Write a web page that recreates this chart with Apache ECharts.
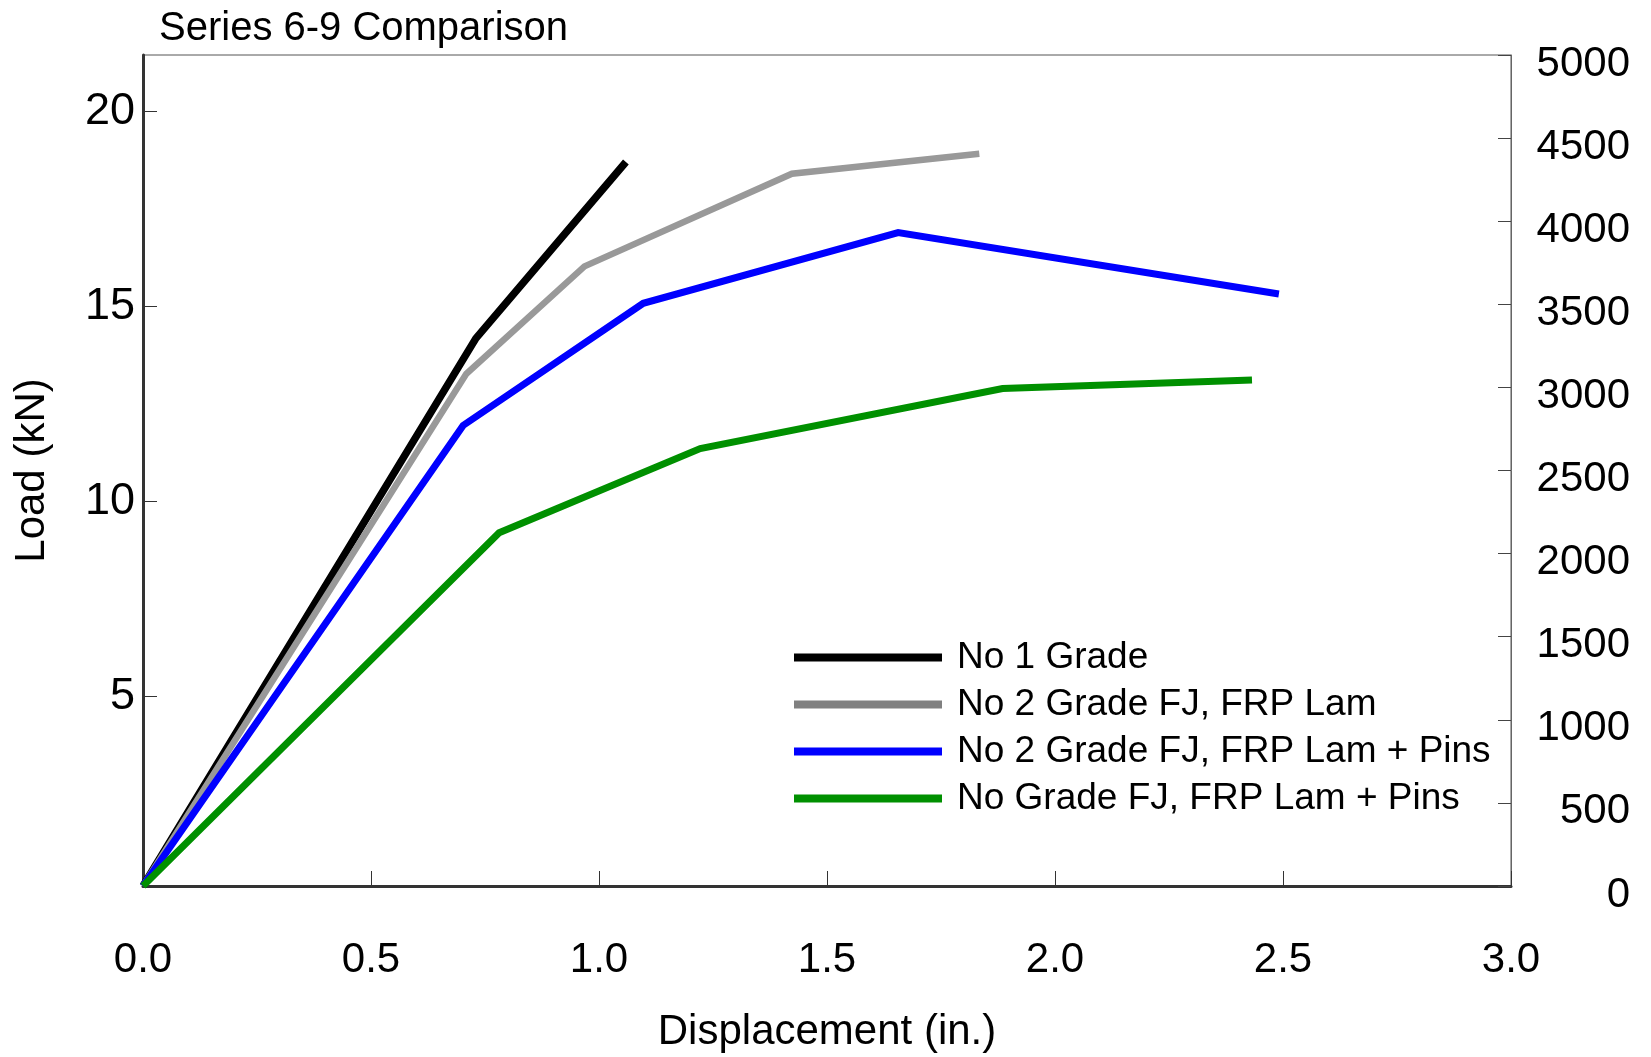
<!DOCTYPE html>
<html>
<head>
<meta charset="utf-8">
<script src="https://cdn.jsdelivr.net/npm/echarts@6/dist/echarts.min.js"></script>
<style>
html,body{margin:0;padding:0;background:#fff;}
#chart{width:1651px;height:1057px;}
</style>
</head>
<body>
<div id="chart"></div>
<script>
// Data: [displacement (in.), load] – load read on the right-hand scale
const seriesNames = ['No 1 Grade', 'No 2 Grade FJ, FRP Lam', 'No 2 Grade FJ, FRP Lam + Pins', 'No Grade FJ, FRP Lam + Pins'];
const no1Grade = [[0, 0], [0.730, 3295], [1.059, 4356]];
const no2GradeFJ = [[0, 0], [0.709, 3082], [0.968, 3728], [1.423, 4286], [1.834, 4406]];
const no2GradeFJPins = [[0, 0], [0.702, 2771], [1.097, 3506], [1.656, 3931], [2.491, 3562]];
const noGradeFJPins = [[0, 0], [0.781, 2125], [1.222, 2632], [1.885, 2993], [2.432, 3044]];
const leftTicks = [5, 10, 15, 20];
const xTicks = [0, 0.5, 1.0, 1.5, 2.0, 2.5, 3.0];
const rightTicks = [0, 500, 1000, 1500, 2000, 2500, 3000, 3500, 4000, 4500, 5000];

const FONT = '"Liberation Sans", Arial, sans-serif';
const chart = echarts.init(document.getElementById('chart'), null, {renderer: 'canvas'});

function mkSeries(name, data, color, width) {
  return {
    name: name, type: 'line', data: data, yAxisIndex: 1,
    symbol: 'none', showSymbol: false, animation: false,
    lineStyle: {color: color, width: width, join: 'miter', cap: 'butt'},
    itemStyle: {color: color}
  };
}

chart.setOption({
  backgroundColor: '#fff',
  animation: false,
  title: {
    text: 'Series 6-9 Comparison', left: 154, top: 4,
    textStyle: {fontFamily: FONT, fontSize: 40, fontWeight: 'normal', color: '#000'}
  },
  grid: {left: 143, right: 140, top: 55, bottom: 171, show: true, borderColor: '#555', borderWidth: 1,
         containLabel: false, outerBoundsMode: 'none'},
  legend: {
    orient: 'vertical', left: 789, top: 634, itemGap: 10,
    icon: 'rect', itemWidth: 148, itemHeight: 8,
    textStyle: {fontFamily: FONT, fontSize: 37, color: '#000', padding: [0, 0, 0, 10]},
    data: [
      {name: seriesNames[0], itemStyle: {color: '#000'}},
      {name: seriesNames[1], itemStyle: {color: '#808080'}},
      {name: seriesNames[2], itemStyle: {color: '#0000ff'}},
      {name: seriesNames[3], itemStyle: {color: '#009000'}}
    ]
  },
  xAxis: {
    type: 'value', min: xTicks[0], max: xTicks[xTicks.length - 1], interval: 0.5,
    name: 'Displacement (in.)', nameLocation: 'middle', nameGap: 125,
    nameTextStyle: {fontFamily: FONT, fontSize: 42, color: '#000'},
    axisLine: {show: true, onZero: false, lineStyle: {color: '#333', width: 3}},
    axisTick: {show: true, inside: true, length: 15, lineStyle: {color: '#333', width: 1}},
    axisLabel: {fontFamily: FONT, fontSize: 42, color: '#000', margin: 53, formatter: v => v.toFixed(1)},
    splitLine: {show: false}
  },
  yAxis: [
    {
      type: 'value', position: 'left', min: 0.149, max: 21.44,
      name: 'Load (kN)', nameLocation: 'middle', nameGap: 90, nameRotate: 90,
      nameTextStyle: {fontFamily: FONT, fontSize: 42, color: '#000'},
      axisLine: {show: true, onZero: false, lineStyle: {color: '#333', width: 3}},
      axisTick: {show: true, inside: true, length: 14, customValues: leftTicks, lineStyle: {color: '#333', width: 1}},
      axisLabel: {fontFamily: FONT, fontSize: 45, color: '#000', margin: 8, customValues: leftTicks},
      splitLine: {show: false}
    },
    {
      type: 'value', position: 'right', min: rightTicks[0], max: rightTicks[rightTicks.length - 1], interval: 500,
      axisLine: {show: true, onZero: false, lineStyle: {color: '#666', width: 1}},
      axisTick: {show: true, inside: true, length: 13, lineStyle: {color: '#444', width: 1}},
      axisLabel: {fontFamily: FONT, fontSize: 42, color: '#000', margin: 119, align: 'right',
                  verticalAlign: 'top', lineHeight: 18,
                  showMinLabel: true, showMaxLabel: true,
                  formatter: v => String(v)},
      splitLine: {show: false}
    }
  ],
  series: [
    mkSeries(seriesNames[0], no1Grade, '#000000', 7.5),
    mkSeries(seriesNames[1], no2GradeFJ, '#999999', 6.5),
    mkSeries(seriesNames[2], no2GradeFJPins, '#0000ff', 7),
    mkSeries(seriesNames[3], noGradeFJPins, '#009000', 7)
  ]
});
</script>
</body>
</html>
